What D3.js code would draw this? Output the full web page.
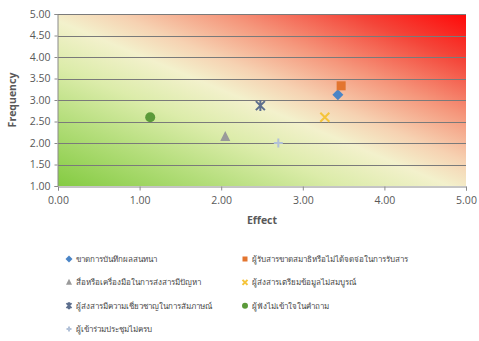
<!DOCTYPE html>
<html>
<head>
<meta charset="utf-8">
<script src="https://cdn.jsdelivr.net/npm/d3@7"></script>
<style>
  html, body { margin: 0; padding: 0; background: #ffffff; }
  svg { display: block; }
  text { font-family: "Open Sans", "Noto Sans", "DejaVu Sans", sans-serif; fill: #595959; }
</style>
</head>
<body>
<svg id="chart" width="479" height="341"></svg>
<script>
// Risk items: Effect (x) vs Frequency (y)
const seriesNames = [
  "ขาดการบันทึกผลสนทนา",
  "ผู้รับสารขาดสมาธิหรือไม่ได้จดจ่อในการรับสาร",
  "สื่อหรือเครื่องมือในการส่งสารมีปัญหา",
  "ผู้ส่งสารเตรียมข้อมูลไม่สมบูรณ์",
  "ผู้ส่งสารมีความเชี่ยวชาญในการสัมภาษณ์",
  "ผู้ฟังไม่เข้าใจในคำถาม",
  "ผู้เข้าร่วมประชุมไม่ครบ"
];
const effectValues    = [3.43, 3.47, 2.05, 3.27, 2.48, 1.13, 2.70];
const frequencyValues = [3.12, 3.33, 2.15, 2.60, 2.87, 2.60, 2.00];
const markerShapes = ["diamond", "square", "triangle", "x", "star", "circle", "plus"];
const markerColors = ["#4a85c6", "#e3752f", "#9a9a9a", "#f5c43a", "#5d6f8e", "#5b9a3a", "#b2c1d8"];
const xTicks = [0, 1, 2, 3, 4, 5];
const yTicks = [1, 1.5, 2, 2.5, 3, 3.5, 4, 4.5, 5];

const svg = d3.select("#chart");
const plot = { left: 58, right: 466, top: 14, bottom: 186 };

const x = d3.scaleLinear().domain([0, 5]).range([plot.left, plot.right]);
const y = d3.scaleLinear().domain([1, 5]).range([plot.bottom, plot.top]);

// Diagonal green → cream → red background
const defs = svg.append("defs");
const grad = defs.append("linearGradient")
  .attr("id", "riskGrad")
  .attr("x1", 0).attr("y1", 1).attr("x2", 1).attr("y2", 0);
[
  [0.00, "#84cb42"],
  [0.20, "#b5de7c"],
  [0.35, "#dcecaa"],
  [0.48, "#f3f1cc"],
  [0.57, "#f6d2b2"],
  [0.70, "#f5977c"],
  [0.86, "#f44539"],
  [1.00, "#ff0808"]
].forEach(([o, c]) => grad.append("stop").attr("offset", o).attr("stop-color", c));

svg.append("rect")
  .attr("x", plot.left).attr("y", plot.top)
  .attr("width", plot.right - plot.left).attr("height", plot.bottom - plot.top)
  .attr("fill", "url(#riskGrad)");

// Horizontal gridlines
svg.append("g")
  .selectAll("line")
  .data(yTicks.filter(t => t > 1))
  .join("line")
  .attr("x1", plot.left).attr("x2", plot.right)
  .attr("y1", d => Math.round(y(d)) + 0.5).attr("y2", d => Math.round(y(d)) + 0.5)
  .attr("stroke", "#7a7a7a").attr("stroke-width", 1);

// Axes
const xAxis = d3.axisBottom(x).tickValues(xTicks).tickFormat(d3.format(".2f")).tickSize(4).tickPadding(6);
const yAxis = d3.axisLeft(y).tickValues(yTicks).tickFormat(d3.format(".2f")).tickSize(3).tickPadding(4);

const gx = svg.append("g").attr("transform", `translate(0,${plot.bottom + 0.5})`).call(xAxis);
const gy = svg.append("g").attr("transform", `translate(${plot.left - 0.5},0)`).call(yAxis);
[gx, gy].forEach(g => {
  g.select(".domain").attr("stroke", "#8a8a8a");
  g.selectAll(".tick line").attr("stroke", "#8a8a8a");
  g.selectAll(".tick text").attr("fill", "#595959").style("font-size", "10.5px")
    .style("font-family", "'Open Sans', sans-serif");
});

// Axis titles
svg.append("text")
  .attr("x", x(2.5)).attr("y", 224)
  .attr("text-anchor", "middle")
  .style("font-size", "10.5px").style("font-weight", "bold")
  .text("Effect");
svg.append("text")
  .attr("transform", `translate(16,${y(3)}) rotate(-90)`)
  .attr("text-anchor", "middle")
  .style("font-size", "10.5px").style("font-weight", "bold")
  .text("Frequency");

// Marker drawing
function drawMarker(g, shape, color, s) {
  const h = s / 2;
  switch (shape) {
    case "diamond":
      g.append("path").attr("d", `M0,${-h - 1}L${h + 1},0L0,${h + 1}L${-h - 1},0Z`).attr("fill", color);
      break;
    case "square":
      g.append("rect").attr("x", -h).attr("y", -h).attr("width", s).attr("height", s).attr("fill", color);
      break;
    case "triangle":
      g.append("path").attr("d", `M0,${-h - 1}L${h + 0.5},${h}L${-h - 0.5},${h}Z`).attr("fill", color);
      break;
    case "circle":
      g.append("circle").attr("r", h + 0.5).attr("fill", color);
      break;
    case "x":
      g.append("path").attr("d", `M${-h},${-h}L${h},${h}M${h},${-h}L${-h},${h}`)
        .attr("stroke", color).attr("stroke-width", 2).attr("fill", "none");
      break;
    case "star":
      g.append("path").attr("d", `M${-h},${-h}L${h},${h}M${h},${-h}L${-h},${h}M0,${-h - 1}L0,${h + 1}`)
        .attr("stroke", color).attr("stroke-width", 2).attr("fill", "none");
      break;
    case "plus":
      g.append("path").attr("d", `M${-h},0L${h},0M0,${-h}L0,${h}`)
        .attr("stroke", color).attr("stroke-width", 2).attr("fill", "none");
      break;
  }
}

// Data points
const points = seriesNames.map((name, i) => ({
  name, ex: effectValues[i], fr: frequencyValues[i], shape: markerShapes[i], color: markerColors[i]
}));

svg.append("g").selectAll("g")
  .data(points)
  .join("g")
  .attr("transform", d => `translate(${x(d.ex)},${y(d.fr)})`)
  .each(function (d) { drawMarker(d3.select(this), d.shape, d.color, 9); });

// Legend: two columns
const legendX = [69, 245];
const legendY = d3.scalePoint().domain([0, 1, 2, 3]).range([259, 329]);
const lg = svg.append("g")
  .selectAll("g")
  .data(points)
  .join("g")
  .attr("transform", (d, i) => `translate(${legendX[i % 2]},${legendY(Math.floor(i / 2))})`);
lg.each(function (d) { drawMarker(d3.select(this), d.shape, d.color, 5); });
lg.append("text")
  .attr("x", 7).attr("y", 3)
  .style("font-size", "8px")
  .style("fill", "#474747")
  .style("font-family", "'Noto Sans', 'DejaVu Sans', sans-serif")
  .text(d => d.name);
</script>
</body>
</html>
